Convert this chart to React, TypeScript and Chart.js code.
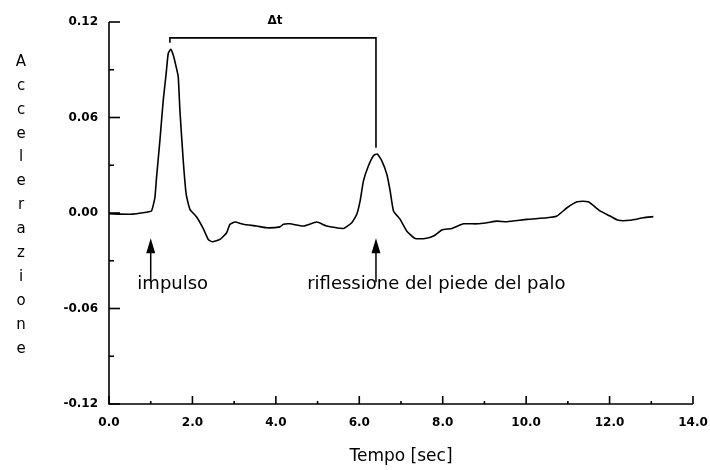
import React, { useEffect, useRef } from "react";
import { Chart, registerables } from "chart.js";

Chart.register(...registerables);

// ---- data (time in s, acceleration) ----
const timeValues = [
  0, 0.5, 0.9, 1.02, 1.1, 1.14, 1.22, 1.3, 1.37, 1.42, 1.48, 1.54, 1.61, 1.66, 1.7, 1.78, 1.85, 1.94,
  2.1, 2.26, 2.38, 2.48, 2.66, 2.82, 2.9, 3.02, 3.22, 3.54, 3.78, 4.1, 4.18, 4.34, 4.66, 4.98, 5.22,
  5.62, 5.82, 5.94, 6.02, 6.1, 6.22, 6.34, 6.43, 6.54, 6.66, 6.74, 6.82, 6.98, 7.14, 7.34, 7.58, 7.78,
  7.98, 8.22, 8.5, 8.82, 9.06, 9.3, 9.54, 10.02, 10.5, 10.74, 10.98, 11.22, 11.49, 11.77, 12.01, 12.21,
  12.49, 12.81, 13.05,
];
const accelValues = [
  -0.0005, -0.0008, 0.0005, 0.0013, 0.0097, 0.0224, 0.0455, 0.0707, 0.0876, 0.1002, 0.1028, 0.0992,
  0.0918, 0.0855, 0.0644, 0.0328, 0.0118, 0.0023, -0.0025, -0.0098, -0.0166, -0.0181, -0.0166, -0.0124,
  -0.0071, -0.0057, -0.0071, -0.0082, -0.0093, -0.0087, -0.0071, -0.0068, -0.0082, -0.0057, -0.0082,
  -0.0097, -0.0061, -0.0008, 0.0076, 0.0202, 0.0297, 0.036, 0.0371, 0.0328, 0.0244, 0.0139, 0.0013,
  -0.004, -0.0114, -0.016, -0.016, -0.0145, -0.0107, -0.0097, -0.0068, -0.0068, -0.0061, -0.0051,
  -0.0055, -0.004, -0.003, -0.0019, 0.0033, 0.0071, 0.0071, 0.0013, -0.0019, -0.0046, -0.0046, -0.003,
  -0.0023,
];
const xTickValues = [0, 1, 2, 3, 4, 5, 6, 7, 8, 9, 10, 11, 12, 13, 14];
const yTickValues = [-0.12, -0.09, -0.06, -0.03, 0, 0.03, 0.06, 0.09, 0.12];
const yTitle = "Accelerazione";
const xTitle = "Tempo [sec]";
const arrowTimes = [1.0, 6.4];
const annotationLabels = ["impulso", "riflessione del piede del palo"];
const annotationStartTimes = [0.68, 4.75];
const deltaLabel = "Δt";
const deltaStart = 1.46;
const deltaEnd = 6.4;

const decorPlugin = {
  id: "decor",
  afterDraw(chart: any) {
    const { ctx, chartArea, scales } = chart;
    const x = scales.x;
    const y = scales.y;
    const L = chartArea.left;
    const B = chartArea.bottom;
    const T = chartArea.top;
    const R = chartArea.right;
    ctx.save();
    ctx.strokeStyle = "#000";
    ctx.fillStyle = "#000";
    ctx.lineWidth = 1.6;
    // axes
    ctx.beginPath();
    ctx.moveTo(L, T);
    ctx.lineTo(L, B);
    ctx.lineTo(R, B);
    ctx.stroke();
    // y ticks (inside)
    yTickValues.forEach((v) => {
      const major = Math.round(Math.abs(v) * 100) % 6 === 0;
      const py = y.getPixelForValue(v);
      ctx.beginPath();
      ctx.moveTo(L, py);
      ctx.lineTo(L + (major ? 11 : 5), py);
      ctx.stroke();
    });
    // x ticks (inside)
    xTickValues.forEach((t) => {
      const major = t % 2 === 0;
      const px = x.getPixelForValue(t);
      ctx.beginPath();
      ctx.moveTo(px, B);
      ctx.lineTo(px, B - (major ? 8 : 3));
      ctx.stroke();
    });
    // arrows
    const tipY = y.getPixelForValue(-0.0158);
    const tailY = y.getPixelForValue(-0.0435);
    arrowTimes.forEach((t) => {
      const px = x.getPixelForValue(t);
      ctx.lineWidth = 1.5;
      ctx.beginPath();
      ctx.moveTo(px, tipY + 10);
      ctx.lineTo(px, tailY);
      ctx.stroke();
      ctx.beginPath();
      ctx.moveTo(px, tipY);
      ctx.lineTo(px - 4.5, tipY + 15);
      ctx.lineTo(px + 4.5, tipY + 15);
      ctx.closePath();
      ctx.fill();
    });
    // annotation texts
    ctx.font = '18px "DejaVu Sans"';
    ctx.textBaseline = "middle";
    ctx.textAlign = "left";
    const textY = y.getPixelForValue(-0.0445);
    annotationLabels.forEach((s, i) => {
      ctx.fillText(s, x.getPixelForValue(annotationStartTimes[i]), textY);
    });
    // delta t bracket
    const bx1 = x.getPixelForValue(deltaStart);
    const bx2 = x.getPixelForValue(deltaEnd);
    const by = y.getPixelForValue(0.11);
    ctx.lineWidth = 1.6;
    ctx.beginPath();
    ctx.moveTo(bx1, y.getPixelForValue(0.107));
    ctx.lineTo(bx1, by);
    ctx.lineTo(bx2, by);
    ctx.lineTo(bx2, y.getPixelForValue(0.041));
    ctx.stroke();
    ctx.font = 'bold 12px "DejaVu Sans"';
    ctx.textAlign = "center";
    ctx.fillText(deltaLabel, x.getPixelForValue(3.98), y.getPixelForValue(0.121));
    // vertical y title, letter by letter
    ctx.font = '15px "DejaVu Sans"';
    ctx.textAlign = "center";
    const letters = Array.from(yTitle);
    letters.forEach((ch, i) => {
      ctx.fillText(ch, 21, T + 40 + i * 23.9);
    });
    ctx.restore();
  },
};

export default function App() {
  const ref = useRef<HTMLCanvasElement | null>(null);
  useEffect(() => {
    if (!ref.current) return;
    const points = timeValues.map((t, i) => ({ x: t, y: accelValues[i] }));
    const chart = new Chart(ref.current, {
      type: "line",
      data: {
        datasets: [
          {
            data: points,
            borderColor: "#000",
            borderWidth: 1.6,
            pointRadius: 0,
            tension: 0.15,
            fill: false,
          },
        ],
      },
      options: {
        animation: false,
        responsive: false,
        maintainAspectRatio: false,
        layout: { padding: { top: 22, right: 17, left: 0, bottom: 0 } },
        plugins: { legend: { display: false }, tooltip: { enabled: false } },
        scales: {
          x: {
            type: "linear",
            min: 0,
            max: 14,
            afterFit: (s: any) => {
              s.height = 66;
              s.paddingLeft = 0;
              s.paddingRight = 0;
            },
            afterBuildTicks: (s: any) => {
              s.ticks = xTickValues.filter((t) => t % 2 === 0).map((v) => ({ value: v }));
            },
            grid: { display: false, drawTicks: false },
            border: { display: false },
            ticks: {
              padding: 12,
              color: "#000",
              font: { family: "DejaVu Sans", size: 12, weight: "bold" },
              maxRotation: 0,
              autoSkip: false,
              callback: (v: any) => Number(v).toFixed(1),
            },
            title: {
              display: true,
              text: xTitle,
              color: "#000",
              font: { family: "DejaVu Sans", size: 17 },
              padding: { top: 0, bottom: 3 },
            },
          },
          y: {
            type: "linear",
            min: -0.12,
            max: 0.12,
            afterFit: (s: any) => {
              s.width = 109;
              s.paddingTop = 0;
              s.paddingBottom = 0;
            },
            afterBuildTicks: (s: any) => {
              s.ticks = yTickValues.map((v) => ({ value: v }));
            },
            grid: { display: false, drawTicks: false },
            border: { display: false },
            ticks: {
              padding: 11,
              color: "#000",
              font: { family: "DejaVu Sans", size: 12, weight: "bold" },
              autoSkip: false,
              callback: (v: any) => {
                const n = Math.round(Number(v) * 100);
                if (n % 6 !== 0) return "";
                return (n / 100).toFixed(2);
              },
            },
          },
        },
      },
      plugins: [decorPlugin],
    });
    return () => chart.destroy();
  }, []);
  return (
    <div style={{ position: "fixed", left: 0, top: 0, width: 710, height: 470, background: "#fff" }}>
      <canvas ref={ref} width={710} height={470} style={{ width: 710, height: 470, display: "block" }} />
    </div>
  );
}
